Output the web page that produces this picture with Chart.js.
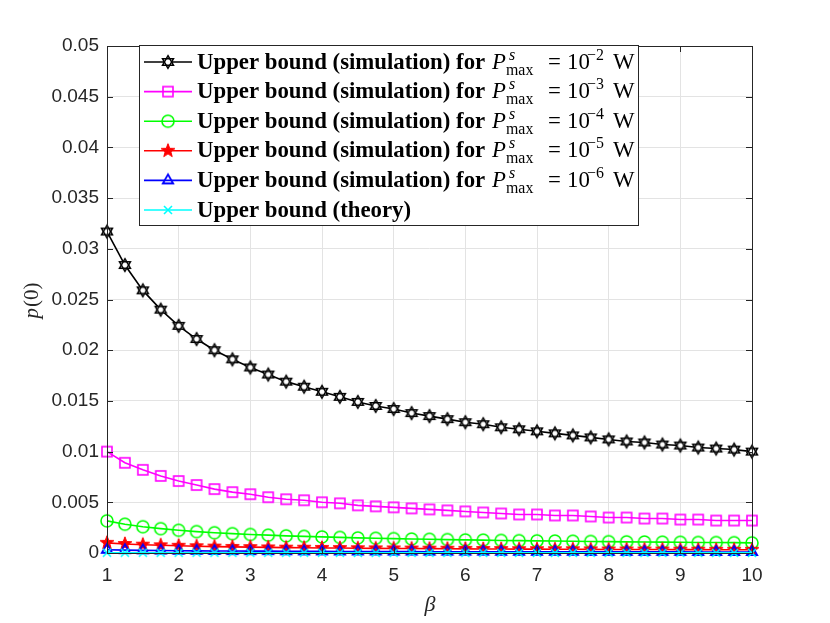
<!DOCTYPE html>
<html>
<head>
<meta charset="utf-8">
<script src="https://cdn.jsdelivr.net/npm/chart.js@4"></script>
<style>
html, body { margin: 0; padding: 0; background: #fff; }
</style>
</head>
<body>
<canvas id="myChart" width="830" height="623"></canvas>
<script>
// Data
const beta = [1, 1.25, 1.5, 1.75, 2, 2.25, 2.5, 2.75, 3, 3.25, 3.5, 3.75, 4, 4.25, 4.5, 4.75, 5, 5.25, 5.5, 5.75,
  6, 6.25, 6.5, 6.75, 7, 7.25, 7.5, 7.75, 8, 8.25, 8.5, 8.75, 9, 9.25, 9.5, 9.75, 10];
const simPmax2 = [0.0317, 0.0284, 0.0259, 0.0240, 0.0224, 0.0211, 0.0200, 0.0191, 0.0183, 0.0176, 0.0169, 0.0164,
  0.0159, 0.0154, 0.0149, 0.0145, 0.0142, 0.0138, 0.0135, 0.0132, 0.0129, 0.0127, 0.0124, 0.0122, 0.0120, 0.0118,
  0.0116, 0.0114, 0.0112, 0.0110, 0.0109, 0.0107, 0.0106, 0.0104, 0.0103, 0.0102, 0.0100];
const simPmax3 = [0.0100, 0.0089, 0.0082, 0.0076, 0.0071, 0.0067, 0.0063, 0.0060, 0.0058, 0.0055, 0.0053, 0.0052,
  0.0050, 0.0049, 0.0047, 0.0046, 0.0045, 0.0044, 0.0043, 0.0042, 0.0041, 0.0040, 0.0039, 0.0038, 0.0038, 0.0037,
  0.0037, 0.0036, 0.0035, 0.0035, 0.0034, 0.0034, 0.0033, 0.0033, 0.0032, 0.0032, 0.0032];
const simPmax4 = [0.00317, 0.00284, 0.00259, 0.00240, 0.00224, 0.00211, 0.00200, 0.00191, 0.00183, 0.00176, 0.00169,
  0.00164, 0.00159, 0.00154, 0.00149, 0.00145, 0.00142, 0.00138, 0.00135, 0.00132, 0.00129, 0.00127, 0.00124,
  0.00122, 0.00120, 0.00118, 0.00116, 0.00114, 0.00112, 0.00110, 0.00109, 0.00107, 0.00106, 0.00104, 0.00103,
  0.00102, 0.00100];
const simPmax5 = [0.00100, 0.00089, 0.00082, 0.00076, 0.00071, 0.00067, 0.00063, 0.00060, 0.00058, 0.00055, 0.00053,
  0.00052, 0.00050, 0.00049, 0.00047, 0.00046, 0.00045, 0.00044, 0.00043, 0.00042, 0.00041, 0.00040, 0.00039,
  0.00038, 0.00038, 0.00037, 0.00037, 0.00036, 0.00035, 0.00035, 0.00034, 0.00034, 0.00033, 0.00033, 0.00032,
  0.00032, 0.00032];
const simPmax6 = [0.00032, 0.00028, 0.00026, 0.00024, 0.00022, 0.00021, 0.00020, 0.00019, 0.00018, 0.00018, 0.00017,
  0.00016, 0.00016, 0.00015, 0.00015, 0.00015, 0.00014, 0.00014, 0.00013, 0.00013, 0.00013, 0.00013, 0.00012,
  0.00012, 0.00012, 0.00012, 0.00012, 0.00011, 0.00011, 0.00011, 0.00011, 0.00011, 0.00011, 0.00010, 0.00010,
  0.00010, 0.00010];
const theory = [0.00003, 0.00003, 0.00003, 0.00002, 0.00002, 0.00002, 0.00002, 0.00002, 0.00002, 0.00002, 0.00002,
  0.00002, 0.00002, 0.00002, 0.00001, 0.00001, 0.00001, 0.00001, 0.00001, 0.00001, 0.00001, 0.00001, 0.00001,
  0.00001, 0.00001, 0.00001, 0.00001, 0.00001, 0.00001, 0.00001, 0.00001, 0.00001, 0.00001, 0.00001, 0.00001,
  0.00001, 0.00001];
const exponents = ["\u22122", "\u22123", "\u22124", "\u22125", "\u22126", null];
const colors = ["#000000", "#ff00ff", "#00ff00", "#ff0000", "#0000ff", "#00ffff"];

// Markers
function marker(draw) {
  var c = document.createElement("canvas");
  c.width = 20; c.height = 20;
  var g = c.getContext("2d");
  g.translate(10, 10);
  draw(g);
  return c;
}
function poly(g, n, r, rot) {
  g.beginPath();
  for (var k = 0; k < n; k++) {
    var a = rot + k * 2 * Math.PI / n;
    g.lineTo(r * Math.cos(a), r * Math.sin(a));
  }
  g.closePath();
}
var mHex = marker(function (g) {
  g.strokeStyle = "#000"; g.lineWidth = 1.5; g.fillStyle = "#fff";
  g.beginPath();
  for (var k = 0; k < 12; k++) {
    var a = -Math.PI / 2 + k * Math.PI / 6;
    var r = k % 2 ? 3.6 : 6.3;
    g.lineTo(r * Math.cos(a), r * Math.sin(a));
  }
  g.closePath(); g.fill();
  poly(g, 3, 6.3, -Math.PI / 2); g.stroke();
  poly(g, 3, 6.3, Math.PI / 2); g.stroke();
});
var mSquare = marker(function (g) {
  g.strokeStyle = "#ff00ff"; g.lineWidth = 1.6;
  g.strokeRect(-5, -5, 10, 10);
});
var mCircle = marker(function (g) {
  g.strokeStyle = "#00ff00"; g.lineWidth = 1.6;
  g.beginPath(); g.arc(0, 0, 6, 0, 2 * Math.PI); g.stroke();
});
var mPent = marker(function (g) {
  g.fillStyle = "#ff0000"; g.strokeStyle = "#ff0000"; g.lineWidth = 1;
  g.beginPath();
  for (var k = 0; k < 10; k++) {
    var a = -Math.PI / 2 + k * Math.PI / 5;
    var r = k % 2 ? 3 : 7.2;
    g.lineTo(r * Math.cos(a), r * Math.sin(a));
  }
  g.closePath(); g.fill(); g.stroke();
});
var mTri = marker(function (g) {
  g.strokeStyle = "#0000ff"; g.lineWidth = 1.8;
  poly(g, 3, 6, -Math.PI / 2); g.stroke();
});
var mCross = marker(function (g) {
  g.strokeStyle = "#00ffff"; g.lineWidth = 1.6;
  g.beginPath();
  g.moveTo(-4, -4); g.lineTo(4, 4); g.moveTo(-4, 4); g.lineTo(4, -4);
  g.stroke();
});
const markers = [mHex, mSquare, mCircle, mPent, mTri, mCross];
const series = [simPmax2, simPmax3, simPmax4, simPmax5, simPmax6, theory];

var datasets = series.map(function (vals, i) {
  return {
    label: exponents[i] ? "Upper bound (simulation)" : "Upper bound (theory)",
    data: vals.map(function (v, j) { return { x: beta[j], y: v }; }),
    borderColor: colors[i],
    backgroundColor: colors[i],
    borderWidth: 1.6,
    pointStyle: markers[i],
    pointRadius: 6,
    showLine: true,
    tension: 0,
    clip: false,
    order: 5 - i,
  };
});

// Frame, inward ticks, legend and axis titles
const axisColor = "#262626";
var decor = {
  id: "decor",
  afterDatasetsDraw: function (chart) {
    var ctx = chart.ctx, a = chart.chartArea, x = chart.scales.x, y = chart.scales.y;
    ctx.save();
    ctx.strokeStyle = axisColor; ctx.lineWidth = 1;
    ctx.beginPath();
    x.ticks.forEach(function (t) {
      var px = Math.round(x.getPixelForValue(t.value)) + 0.5;
      ctx.moveTo(px, a.bottom); ctx.lineTo(px, a.bottom - 6);
      ctx.moveTo(px, a.top); ctx.lineTo(px, a.top + 6);
    });
    y.ticks.forEach(function (t) {
      var py = Math.round(y.getPixelForValue(t.value)) + 0.5;
      ctx.moveTo(a.left, py); ctx.lineTo(a.left + 6, py);
      ctx.moveTo(a.right, py); ctx.lineTo(a.right - 6, py);
    });
    ctx.stroke();
    ctx.strokeRect(Math.round(a.left) + 0.5, Math.round(a.top) + 0.5,
      Math.round(a.right - a.left), Math.round(a.bottom - a.top));

    // legend
    var bx = 139, by = 45, bw = 499, bh = 180;
    ctx.fillStyle = "#fff"; ctx.fillRect(bx, by, bw, bh);
    ctx.strokeStyle = axisColor; ctx.strokeRect(bx + 0.5, by + 0.5, bw, bh);
    ctx.font = "bold 20px 'Liberation Serif'";
    var fs = 20 * 288 / ctx.measureText("Upper bound (simulation) for").width;
    var bold = "bold " + fs.toFixed(1) + "px 'Liberation Serif'";
    var norm = fs.toFixed(1) + "px 'Liberation Serif'";
    var ital = "italic " + fs.toFixed(1) + "px 'Liberation Serif'";
    var small = (fs * 0.7).toFixed(1) + "px 'Liberation Serif'";
    var smallIt = "italic " + (fs * 0.7).toFixed(1) + "px 'Liberation Serif'";
    datasets.forEach(function (ds, i) {
      var cy = 62 + i * 29.6, base = cy + 6.5;
      ctx.strokeStyle = ds.borderColor; ctx.lineWidth = 1.6;
      ctx.beginPath(); ctx.moveTo(144, cy); ctx.lineTo(192, cy); ctx.stroke();
      ctx.drawImage(markers[i], 168 - 10, cy - 10);
      ctx.fillStyle = "#000"; ctx.textBaseline = "alphabetic"; ctx.textAlign = "left";
      if (exponents[i]) {
        ctx.font = bold; ctx.fillText("Upper bound (simulation) for", 197, base);
        ctx.font = ital; ctx.fillText("P", 492, base);
        ctx.font = smallIt; ctx.fillText("s", 509, base - 9);
        ctx.font = small; ctx.fillText("max", 506, base + 6);
        ctx.font = norm; ctx.fillText("=", 548, base);
        ctx.fillText("10", 567, base);
        ctx.font = small; ctx.fillText(exponents[i], 587, base - 9);
        ctx.font = norm; ctx.fillText("W", 613, base);
      } else {
        ctx.font = bold; ctx.fillText("Upper bound (theory)", 197, base);
      }
    });

    // axis titles
    ctx.fillStyle = axisColor;
    ctx.font = "italic 22px 'Liberation Serif'";
    ctx.textAlign = "center";
    ctx.fillText("\u03b2", 430, 611);
    ctx.translate(38, 301);
    ctx.rotate(-Math.PI / 2);
    ctx.textAlign = "left";
    ctx.font = "italic 21px 'Liberation Serif'";
    var wp = ctx.measureText("p").width;
    ctx.font = "21px 'Liberation Serif'";
    var wr = ctx.measureText("(0)").width;
    var sx = -(wp + wr) / 2;
    ctx.font = "italic 21px 'Liberation Serif'";
    ctx.fillText("p", sx, 0);
    ctx.font = "21px 'Liberation Serif'";
    ctx.fillText("(0)", sx + wp + 1, 0);
    ctx.restore();
  },
};

var ctx = document.getElementById("myChart").getContext("2d");
var myChart = new Chart(ctx, {
  type: "scatter",
  data: { datasets: datasets },
  options: {
    responsive: false,
    animation: false,
    devicePixelRatio: 1,
    layout: { padding: { left: 0, right: 78, top: 46, bottom: 0 } },
    plugins: { legend: { display: false }, tooltip: { enabled: false } },
    scales: {
      x: {
        type: "linear", min: 1, max: 10,
        ticks: { stepSize: 1, color: axisColor, padding: 11, font: { family: "'Liberation Sans'", size: 19 } },
        grid: { color: "#e3e3e3", drawTicks: false },
        border: { display: false },
        afterFit: function (s) { s.height = 70; },
      },
      y: {
        min: 0, max: 0.05,
        ticks: {
          stepSize: 0.005, color: axisColor, padding: 8,
          font: { family: "'Liberation Sans'", size: 19 },
          callback: function (v) { return String(+v.toFixed(3)); },
        },
        grid: { color: "#e3e3e3", drawTicks: false },
        border: { display: false },
        afterFit: function (s) { s.width = 107; },
      },
    },
  },
  plugins: [decor],
});
</script>
</body>
</html>
